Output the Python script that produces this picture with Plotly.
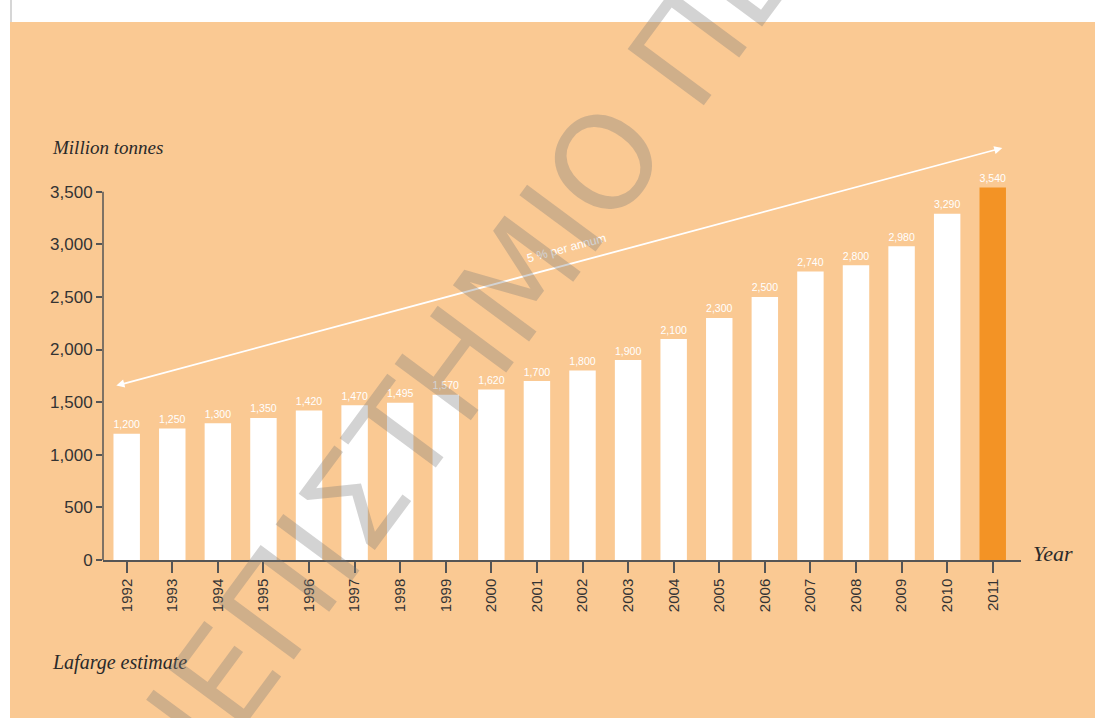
import plotly.graph_objects as go

years = [1992, 1993, 1994, 1995, 1996, 1997, 1998, 1999, 2000, 2001,
         2002, 2003, 2004, 2005, 2006, 2007, 2008, 2009, 2010, 2011]
consumption = [1200, 1250, 1300, 1350, 1420, 1470, 1495, 1570, 1620, 1700,
               1800, 1900, 2100, 2300, 2500, 2740, 2800, 2980, 3290, 3540]
y_ticks = [0, 500, 1000, 1500, 2000, 2500, 3000, 3500]
growth_label = "5 % per annum"

ORANGE_BG = "#FAC993"
ORANGE_BAR = "#F39325"
AXIS = "#555555"
TXT = "#333333"
NARROW = "Liberation Sans Narrow, Liberation Sans, Arial, sans-serif"
SERIF = "Liberation Serif, DejaVu Serif, serif"

bar_colors = ["#FFFFFF"] * (len(years) - 1) + [ORANGE_BAR]

fig = go.Figure()
fig.add_trace(go.Bar(
    x=years, y=consumption,
    marker=dict(color=bar_colors, line=dict(width=0)),
    width=0.58,
    texttemplate="%{y:,}",
    textposition="outside",
    outsidetextfont=dict(color="white", size=13, family=NARROW),
    cliponaxis=False,
    hoverinfo="x+y",
))

W, H = 1095, 718
L, R, T, B = 103, 74, 139, 158
pw, ph = W - L - R, H - T - B

def px(p):
    return (p - L) / pw

def py(p):
    return (H - B - p) / ph

shapes = [
    dict(type="rect", xref="paper", yref="paper", x0=px(0), x1=px(W), y0=py(22), y1=py(0),
         fillcolor="white", line=dict(width=0), layer="above"),
    dict(type="rect", xref="paper", yref="paper", x0=px(0), x1=px(10), y0=py(H), y1=py(0),
         fillcolor="white", line=dict(width=0), layer="above"),
    dict(type="line", xref="paper", yref="paper", x0=px(11), x1=px(11), y0=py(22), y1=py(0),
         line=dict(color="#d6d6d6", width=2), layer="above"),
    dict(type="line", xref="paper", yref="y", x0=0, x1=0, y0=0, y1=y_ticks[-1],
         line=dict(color=AXIS, width=1.5)),
]

annotations = [
    dict(x=2011.21, y=3915, ax=1991.74, ay=1653, xref="x", yref="y", axref="x", ayref="y",
         showarrow=True, arrowside="end+start", arrowhead=2, arrowsize=0.9,
         arrowwidth=1.8, arrowcolor="white", text=""),
    dict(x=2001.65, y=2960, xref="x", yref="y", text=growth_label, showarrow=False,
         textangle=-15, font=dict(color="white", size=12, family=NARROW)),
    dict(x=px(50), y=py(148), xref="paper", yref="paper", xanchor="left", yanchor="middle",
         text="Million tonnes", showarrow=False,
         font=dict(family=SERIF, size=19, color="#2a2a2a", style="italic")),
    dict(x=px(1031), y=py(553), xref="paper", yref="paper", xanchor="left", yanchor="middle",
         text="Year", showarrow=False,
         font=dict(family=SERIF, size=22, color="#2a2a2a", style="italic")),
    dict(x=px(50), y=py(662), xref="paper", yref="paper", xanchor="left", yanchor="middle",
         text="Lafarge estimate", showarrow=False,
         font=dict(family=SERIF, size=20, color="#2a2a2a", style="italic")),
    dict(x=px(526), y=py(270), xref="paper", yref="paper", xanchor="center", yanchor="middle",
         text="ΠΑΝΕΠΙΣΤΗΜΙΟ ΠΕΙΡΑΙΩΣ", showarrow=False, textangle=-53.5,
         font=dict(family="DejaVu Sans, sans-serif", size=130, color="rgba(120,120,120,0.33)")),
]

fig.update_layout(
    width=W, height=H,
    margin=dict(l=L, r=R, t=T, b=B, pad=0),
    paper_bgcolor=ORANGE_BG,
    plot_bgcolor=ORANGE_BG,
    showlegend=False,
    shapes=shapes,
    annotations=annotations,
    xaxis=dict(
        range=[1991.48, 2011.62],
        tickmode="array", tickvals=years, ticktext=[str(y) for y in years],
        tickangle=-90, ticks="outside", ticklen=11, tickwidth=1.5, tickcolor=AXIS,
        showline=True, linecolor=AXIS, linewidth=1.5,
        showgrid=False, zeroline=False,
        tickfont=dict(family="Liberation Sans, Arial, sans-serif", size=15, color=TXT),
    ),
    yaxis=dict(
        range=[0, 4000],
        tickmode="array", tickvals=y_ticks, ticktext=[f"{v:,}" for v in y_ticks],
        ticks="outside", ticklen=6, tickwidth=1.5, tickcolor=AXIS,
        showline=False, showgrid=False, zeroline=False,
        tickfont=dict(family=NARROW, size=17, color=TXT),
    ),
)

fig.write_html("out.html", config={"displayModeBar": False},
               post_script="document.body.style.margin='0';")
